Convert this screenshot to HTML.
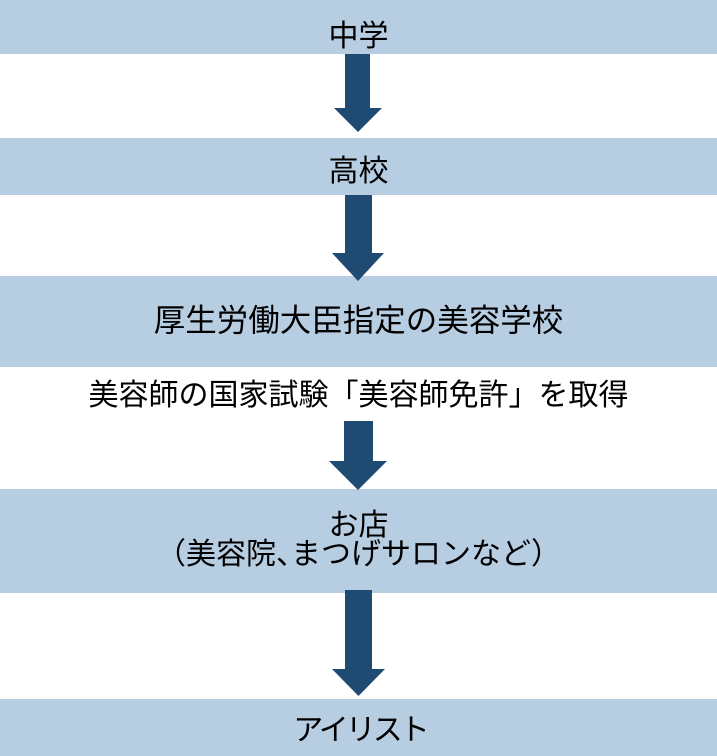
<!DOCTYPE html>
<html>
<head>
<meta charset="utf-8">
<style>
  html, body { margin:0; padding:0; }
  body { width:717px; height:756px; position:relative; overflow:hidden; background:#ffffff;
         font-family:"Liberation Sans","Noto Sans CJK JP",sans-serif; color:#000; }
  .band { position:absolute; left:0; width:717px; background:#b7cde2; }
  .t { position:absolute; left:0; width:717px; text-align:center; font-size:30px; line-height:30px; height:30px;
       font-family:"Noto Sans CJK JP","Liberation Sans",sans-serif; white-space:nowrap; }
  .h { font-feature-settings:"halt"; }
  svg { position:absolute; left:0; top:0; }
</style>
</head>
<body>
  <div class="band" style="top:0;height:54px;"></div>
  <div class="band" style="top:138px;height:57px;"></div>
  <div class="band" style="top:276px;height:91px;"></div>
  <div class="band" style="top:489px;height:104px;"></div>
  <div class="band" style="top:699px;height:57px;"></div>

  <svg width="717" height="756" viewBox="0 0 717 756">
    <g fill="#1f4a71">
      <polygon points="345,54 370,54 370,108 382,108 358,132 334,108 345,108"/>
      <polygon points="345,195 372,195 372,253 384,253 358,281 332,253 345,253"/>
      <polygon points="344,421 373,421 373,461 387,461 358,490 329,461 344,461"/>
      <polygon points="345,590 372,590 372,669 385,669 358.5,696 332,669 345,669"/>
    </g>
  </svg>

  <div class="t" style="top:18px;">中学</div>
  <div class="t" style="top:153px;">高校</div>
  <div class="t" style="top:303px;font-size:31.5px;line-height:31.5px;height:32px;">厚生労働大臣指定の美容学校</div>
  <div class="t" style="top:377px;">美容師の国家試験「美容師免許」を取得</div>
  <div class="t" style="top:507px;">お店</div>
  <div class="t" style="top:536px;"><span class="h">（</span>美容院<span class="h">、</span>まつげサロンなど<span class="h">）</span></div>
  <div class="t" style="top:712px;letter-spacing:-3px;text-indent:3px;">アイリスト</div>
</body>
</html>
